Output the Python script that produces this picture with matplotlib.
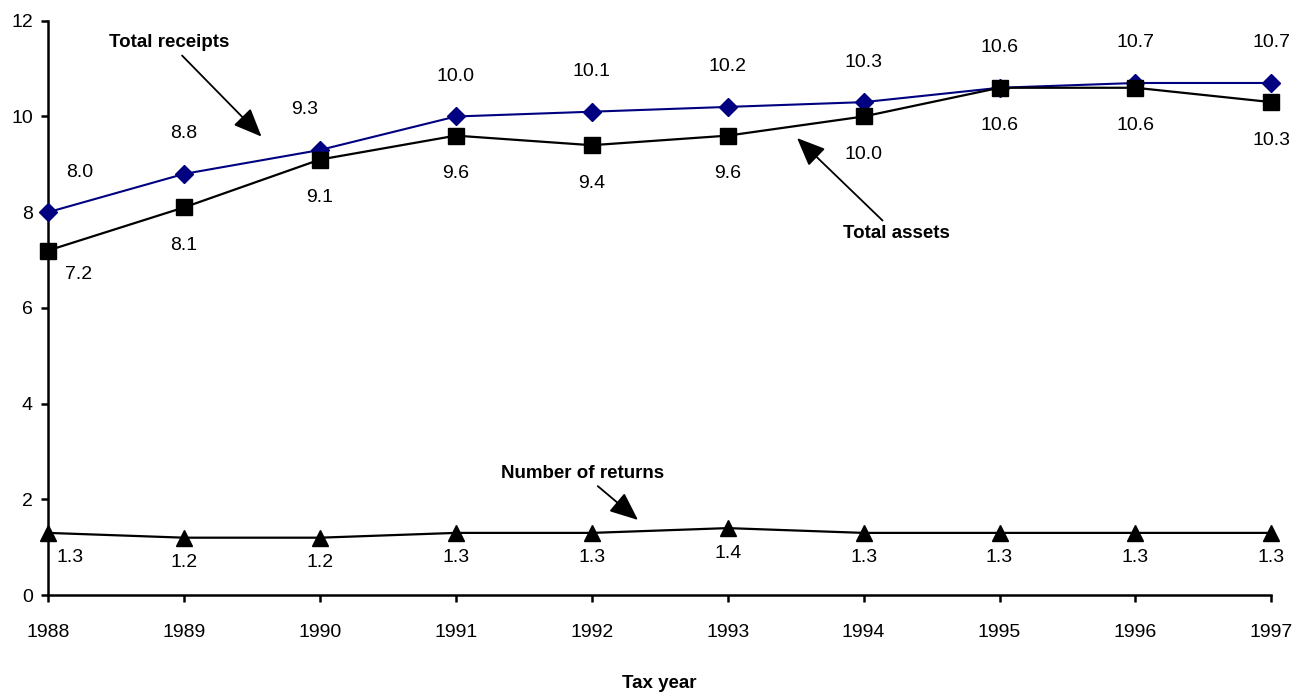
import numpy as np
import matplotlib.pyplot as plt

plt.rcParams['font.family'] = ['Liberation Sans', 'DejaVu Sans']

# Tax year series (index values)
years = [1988, 1989, 1990, 1991, 1992, 1993, 1994, 1995, 1996, 1997]
total_receipts = [8.0, 8.8, 9.3, 10.0, 10.1, 10.2, 10.3, 10.6, 10.7, 10.7]
total_assets = [7.2, 8.1, 9.1, 9.6, 9.4, 9.6, 10.0, 10.6, 10.6, 10.3]
num_returns = [1.3, 1.2, 1.2, 1.3, 1.3, 1.4, 1.3, 1.3, 1.3, 1.3]

fig = plt.figure(figsize=(13, 6.92), dpi=100)
ax = fig.add_axes([0.037, 0.14, 0.941, 0.83])

ax.plot(years, total_receipts, color="#000080", lw=1.5, marker="D", ms=9,
        clip_on=False, zorder=3)
ax.plot(years, total_assets, color="black", lw=1.6, marker="s", ms=11.5,
        clip_on=False, zorder=4)
ax.plot(years, num_returns, color="black", lw=1.6, marker="^", ms=11,
        clip_on=False, zorder=4)

# value labels
lab_fs = 14
for i, (x, v) in enumerate(zip(years, total_receipts)):
    dx = {0: 32, 2: -15}.get(i, 0)
    ax.annotate(f"{v:.1f}", (x, v), xytext=(dx, 40), textcoords="offset pixels",
                ha="center", va="center", fontsize=lab_fs)
for i, (x, v) in enumerate(zip(years, total_assets)):
    dx = 30 if i == 0 else 0
    dy = -24 if i == 0 else -38
    ax.annotate(f"{v:.1f}", (x, v), xytext=(dx, dy), textcoords="offset pixels",
                ha="center", va="center", fontsize=lab_fs)
for i, (x, v) in enumerate(zip(years, num_returns)):
    dx = 22 if i == 0 else 0
    ax.annotate(f"{v:.1f}", (x, v), xytext=(dx, -25), textcoords="offset pixels",
                ha="center", va="center", fontsize=lab_fs)

# series callouts
arrow = dict(arrowstyle="-|>,head_length=1.3,head_width=0.55", color="black",
             lw=1.3, shrinkA=2, shrinkB=0)
ax.annotate("Total receipts", xy=(1989.57, 9.58), xytext=(1988.89, 11.55),
            fontsize=13.5, fontweight="bold", ha="center", va="center", arrowprops=arrow)
ax.annotate("Total assets", xy=(1993.51, 9.55), xytext=(1994.24, 7.55),
            fontsize=13.5, fontweight="bold", ha="center", va="center", arrowprops=arrow)
ax.annotate("Number of returns", xy=(1992.34, 1.57), xytext=(1991.93, 2.55),
            fontsize=13.5, fontweight="bold", ha="center", va="center", arrowprops=arrow)

ax.set_xlim(1988, 1997)
ax.set_ylim(0, 12)
ax.set_xticks(years)
ax.set_yticks(np.arange(0, 13, 2))
ax.tick_params(direction="out", length=5, width=1.8, labelsize=14)
ax.tick_params(axis="x", pad=16)
ax.tick_params(axis="y", pad=6)
ax.set_xlabel("Tax year", fontsize=13.5, fontweight="bold", labelpad=24)

for s in ["top", "right"]:
    ax.spines[s].set_visible(False)
for s in ["left", "bottom"]:
    ax.spines[s].set_linewidth(1.8)

fig.savefig("out.png", dpi=100)
